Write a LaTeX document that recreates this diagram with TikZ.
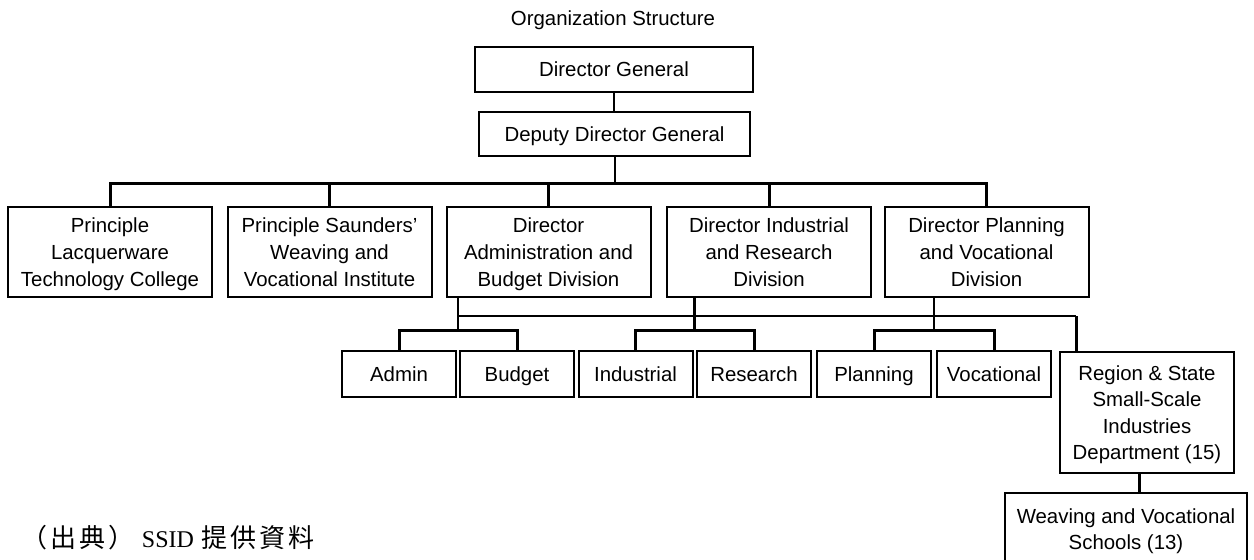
\documentclass[tikz,border=0pt]{standalone}
\usepackage{fontspec}
\setmainfont{Liberation Sans}
\newfontfamily\jpfont[LetterSpace=12]{Noto Sans CJK JP}
\newfontfamily\seriffont{Liberation Serif}
\usetikzlibrary{calc}

\begin{document}
\begin{tikzpicture}[x=0.5pt, y=-0.5pt,
	font=\fontsize{10.2}{13.3}\selectfont,
	box/.style={draw, line width=1pt, align=center, inner sep=0pt, text depth=0pt},
	bigbox/.style={box, minimum width=102pt, minimum height=45pt},
	smallbox/.style={box, minimum width=57pt, minimum height=23pt},
	link/.style={line width=1.5pt},
	thinlink/.style={line width=1pt}]
	\useasboundingbox (0, 0) rectangle (1254, 559);
	%Title
		\node (title) at (613, 20) {Organization Structure};
	%Top line
		%Director General
		\node [box, minimum width=139pt, minimum height=22.5pt] (dg) at (614, 69.5) {Director General};
		%Deputy
		\node [box, minimum width=135.5pt, minimum height=22pt] (ddg) at (614.5, 134) {Deputy Director General};
	%Middle line
		\node [bigbox] (lacquer) at (110, 252) {Principle\\Lacquerware\\Technology College};
		\node [bigbox] (saunders) at (329.5, 252) {Principle Saunders'\\Weaving and\\Vocational Institute};
		\node [bigbox] (admindiv) at (548.5, 252) {Director\\Administration and\\Budget Division};
		\node [bigbox] (inddiv) at (769, 252) {Director Industrial\\and Research\\Division};
		\node [bigbox] (plandiv) at (986.5, 252) {Director Planning\\and Vocational\\Division};
	%Bottom line
		\node [smallbox] (admin) at (399, 374) {Admin};
		\node [smallbox] (budget) at (517, 374) {Budget};
		\node [smallbox] (industrial) at (635.5, 374) {Industrial};
		\node [smallbox] (research) at (754, 374) {Research};
		\node [smallbox] (planning) at (874, 374) {Planning};
		\node [smallbox] (vocational) at (994, 374) {Vocational};
		%Regional offices
		\node [box, minimum width=87pt, minimum height=60.5pt] (region) at (1147, 412.5) {Region \& State\\Small-Scale\\Industries\\Department (15)};
		\node [box, minimum width=121pt, minimum height=36pt] (schools) at (1126, 529) {Weaving and Vocational\\Schools (13)};
	%Bus levels
		\coordinate (topbus) at (0, 183);
		\coordinate (midbus) at (0, 316);
		\coordinate (forks) at (0, 330);
		\coordinate (regiontap) at (1076, 316);
		\coordinate (schooltap) at (1139, 0);
		\coordinate (adminfork) at ($(admin.north)!0.5!(budget.north)$);
		\coordinate (indfork) at ($(industrial.north)!0.5!(research.north)$);
		\coordinate (planfork) at ($(planning.north)!0.5!(vocational.north)$);
	%Top connectors
		\draw [thinlink] (dg.south) -- (dg.south |- ddg.north);
		\draw [thinlink] (ddg.south) -- (ddg.south |- topbus);
		\draw [link] (lacquer.north) -- (lacquer.north |- topbus) -- (plandiv.north |- topbus) -- (plandiv.north);
		\draw [link] (saunders.north) -- (saunders.north |- topbus);
		\draw [link] (admindiv.north) -- (admindiv.north |- topbus);
		\draw [link] (inddiv.north) -- (inddiv.north |- topbus);
	%Divisions to sections
		\draw [thinlink] (admindiv.south -| adminfork) -- (adminfork |- forks);
		\draw [link] (inddiv.south -| indfork) -- (indfork |- forks);
		\draw [thinlink] (plandiv.south -| planfork) -- (planfork |- forks);
		\draw [thinlink] (adminfork |- midbus) -- (regiontap);
		\draw [link] (regiontap) -- (regiontap |- region.north);
		%Forks
		\draw [link] (admin.north) -- (admin.north |- forks) -- (budget.north |- forks) -- (budget.north);
		\draw [link] (industrial.north) -- (industrial.north |- forks) -- (research.north |- forks) -- (research.north);
		\draw [link] (planning.north) -- (planning.north |- forks) -- (vocational.north |- forks) -- (vocational.north);
		%Region to schools
		\draw [link] (region.south -| schooltap) -- (schools.north -| schooltap);
	%Source
		\node [anchor=west, inner sep=0pt, font=\fontsize{13}{15}\selectfont] (source) at (21, 538) {{\jpfont （出典）} {\seriffont\fontsize{12}{14}\selectfont SSID} {\jpfont 提供資料}};
\end{tikzpicture}
\end{document}
